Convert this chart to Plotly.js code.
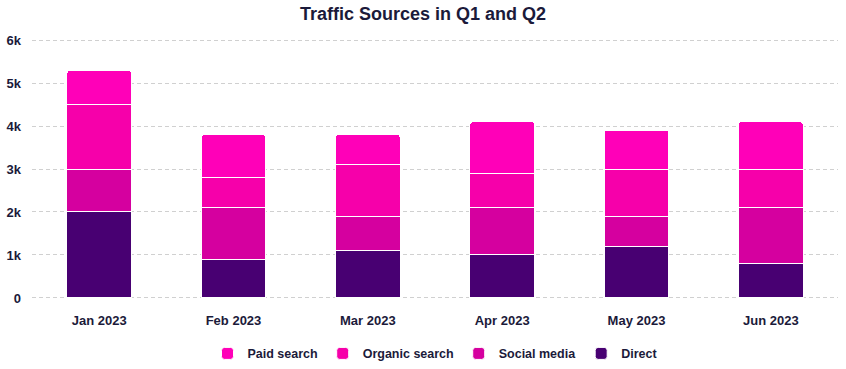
<!DOCTYPE html>
<html>
<head>
<meta charset="utf-8">
<script src="https://cdn.plot.ly/plotly-3.0.1.min.js"></script>
<style>html,body{margin:0;padding:0;background:#fff;}#chart{width:846px;height:369px;}</style>
</head>
<body>
<div id="chart"></div>
<script>
const months = ["Jan 2023", "Feb 2023", "Mar 2023", "Apr 2023", "May 2023", "Jun 2023"];
const direct = [2000, 900, 1100, 1000, 1200, 800];
const socialMedia = [1000, 1200, 800, 1100, 700, 1300];
const organicSearch = [1500, 700, 1200, 800, 1100, 900];
const paidSearch = [800, 1000, 700, 1200, 900, 1100];
const yTickVals = [0, 1000, 2000, 3000, 4000, 5000, 6000];
const yTickText = ["0", "1k", "2k", "3k", "4k", "5k", "6k"];

const textColor = "#1b1a3a";
function series(name, values, color) {
  return {
    type: "bar", name: name, x: months, y: values,
    marker: {color: color, line: {color: "#ffffff", width: 1}},
    hoverinfo: "x+y+name"
  };
}
const data = [
  series("Direct", direct, "#480072"),
  series("Social media", socialMedia, "#d5009f"),
  series("Organic search", organicSearch, "#f600aa"),
  series("Paid search", paidSearch, "#ff00b8")
];
const layout = {
  width: 846, height: 369,
  margin: {l: 32, r: 8, t: 38, b: 69, autoexpand: false},
  paper_bgcolor: "#ffffff", plot_bgcolor: "#ffffff",
  font: {family: "Liberation Sans, Arial, sans-serif", color: textColor, size: 12},
  title: {text: "<b>Traffic Sources in Q1 and Q2</b>", x: 0.5, xanchor: "center", y: 0.962, yanchor: "middle",
          font: {size: 18, color: textColor}},
  barmode: "stack",
  bargap: 0.52,
  barcornerradius: 3,
  xaxis: {
    type: "category", showgrid: false, zeroline: false, showline: false,
    ticks: "", tickfont: {size: 13, color: textColor, weight: "bold"}, ticklabelstandoff: 11
  },
  yaxis: {
    range: [-48, 6048], tickvals: yTickVals, ticktext: yTickText,
    showgrid: true, gridcolor: "#d0d0d0", griddash: "4px,3px", gridwidth: 1,
    zeroline: false, showline: false, ticks: "",
    tickfont: {size: 13, color: textColor, weight: "bold"}, ticklabelstandoff: 10
  },
  legend: {
    orientation: "h", x: 0.5, xanchor: "center", y: -0.148, yanchor: "top",
    traceorder: "reversed", font: {size: 12.5, color: textColor, weight: "bold"},
    itemwidth: 30
  },
  showlegend: true
};
Plotly.newPlot("chart", data, layout, {displayModeBar: false, responsive: false});
</script>
</body>
</html>
